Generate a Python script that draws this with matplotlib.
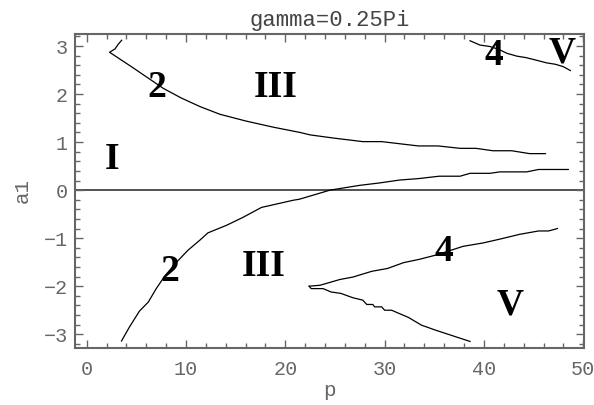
import numpy as np
import matplotlib
matplotlib.use("Agg")
import matplotlib.pyplot as plt
from matplotlib.ticker import MultipleLocator

# Data (p, a1)
up2_p = [3.52, 3.18, 2.85, 2.3, 4.5, 7.7, 9.5, 11.4, 13.4, 16.0, 18.8, 21.5, 22.5,
         25.0, 27.8, 29.7, 33.4, 35.4, 37.6, 39.2, 40.9, 42.8, 44.6, 46.2]
up2_a = [3.12, 3.04, 2.94, 2.87, 2.57, 2.12, 1.92, 1.74, 1.58, 1.44, 1.31, 1.20, 1.15,
         1.08, 1.01, 1.01, 0.92, 0.92, 0.87, 0.87, 0.82, 0.82, 0.76, 0.76]

low2_p = [3.5, 4.3, 5.3, 6.2, 7.0, 7.85, 9.0, 10.2, 11.4, 12.2, 14.1, 15.7, 17.6, 20.8,
          21.4, 24.5, 27.5, 29.5, 31.5, 33.4, 35.5, 37.6, 38.6, 40.6, 41.6, 44.3, 45.5, 48.5]
low2_a = [-3.14, -2.85, -2.52, -2.33, -2.05, -1.79, -1.51, -1.25, -1.04, -0.89, -0.73, -0.57,
          -0.36, -0.21, -0.19, 0.0, 0.10, 0.15, 0.21, 0.24, 0.29, 0.29, 0.35, 0.35, 0.38,
          0.38, 0.43, 0.43]

up4_p = [38.6, 39.6, 40.6, 41.5, 42.3, 43.3, 44.2, 45.0, 46.3, 47.2, 48.0, 48.7]
up4_a = [3.11, 3.02, 2.99, 2.93, 2.85, 2.79, 2.76, 2.72, 2.65, 2.62, 2.57, 2.49]

low4a_p = [22.4, 23.5, 25.5, 26.8, 28.7, 30.3, 31.9, 33.5, 35.2, 37.9, 39.9, 41.6, 43.6,
           45.5, 46.5, 47.4]
low4a_a = [-2.0, -1.98, -1.86, -1.81, -1.69, -1.63, -1.51, -1.44, -1.35, -1.17, -1.10,
           -1.02, -0.92, -0.85, -0.85, -0.80]

low4b_p = [22.4, 22.6, 23.8, 24.6, 25.6, 26.8, 27.8, 28.2, 28.8, 29.0, 29.7, 30.0, 30.7,
           32.4, 33.7, 35.2, 38.6]
low4b_a = [-2.0, -2.05, -2.05, -2.12, -2.15, -2.24, -2.29, -2.38, -2.38, -2.43, -2.43,
           -2.50, -2.50, -2.65, -2.81, -2.92, -3.15]

region_text = ["I", "2", "III", "4", "V", "2", "III", "4", "V"]
region_p = [2.6, 7.1, 19.0, 41.0, 47.9, 8.4, 17.8, 36.0, 42.6]
region_a = [0.63, 2.13, 2.14, 2.81, 2.85, -1.70, -1.58, -1.27, -2.40]

gray = "#666666"
mono = ["Liberation Mono", "DejaVu Sans Mono"]

fig = plt.figure(figsize=(5.94, 4.05), dpi=100)
ax = fig.add_axes([0.1263, 0.1415, 0.8569, 0.7745])

ax.axhline(0, color="#444444", lw=1.3, zorder=1)
for xs, ys in [(up2_p, up2_a), (low2_p, low2_a), (up4_p, up4_a),
               (low4a_p, low4a_a), (low4b_p, low4b_a)]:
    ax.plot(xs, ys, color="black", lw=0.9)

for t, xp, ya in zip(region_text, region_p, region_a):
    ax.text(xp, ya, t, ha="center", va="center", fontsize=27, fontweight="bold",
            family="Liberation Serif")

ax.set_xlim(-1.18, 50.08)
ax.set_ylim(-3.28, 3.25)
ax.xaxis.set_major_locator(MultipleLocator(10))
ax.xaxis.set_minor_locator(MultipleLocator(2))
ax.yaxis.set_major_locator(MultipleLocator(1))
ax.yaxis.set_minor_locator(MultipleLocator(0.2))
ax.tick_params(which="both", direction="in", top=True, right=True, color=gray,
               labelcolor=gray, labelsize=14.5)
ax.tick_params(which="major", length=6, width=1)
ax.tick_params(which="minor", length=3.5, width=1)
ax.tick_params(axis="x", pad=9)
ax.tick_params(axis="y", pad=5)
for lab in ax.get_xticklabels() + ax.get_yticklabels():
    lab.set_family(mono)
for s in ax.spines.values():
    s.set_color("#666666")
    s.set_linewidth(1.5)

ax.set_xlabel("p", family=mono, fontsize=15, color=gray, labelpad=1)
ax.set_ylabel("a1", family=mono, fontsize=15, color=gray, labelpad=9)
ax.set_title("gamma=0.25Pi", family=mono, fontsize=16, color="#444444", pad=6)

fig.savefig("out.png", dpi=100)
